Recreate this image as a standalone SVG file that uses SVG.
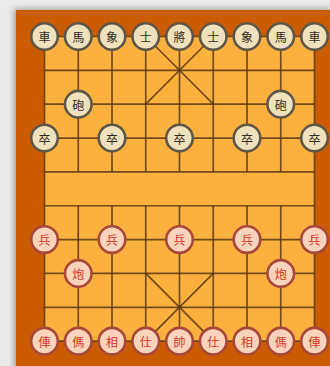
<svg xmlns="http://www.w3.org/2000/svg" width="330" height="366" viewBox="0 0 330 366">
<defs>
<filter id="sh" x="-10%" y="-10%" width="120%" height="120%"><feGaussianBlur stdDeviation="3"/></filter>
<style>
.g{stroke:#5a3a14;stroke-width:1.7;stroke-opacity:.85;fill:none}
.b circle{fill:#efe1bb;stroke:#5e5647;stroke-width:2.6}
.r circle{fill:#f9d3bc;stroke:#a8473a;stroke-width:2.6}
.b text,.r text{font-family:"Noto Sans CJK TC","Noto Sans CJK SC",sans-serif;font-size:12px;text-anchor:middle;dominant-baseline:central}
.b text{fill:#2f2a22}
.r text{fill:#d6372a}
</style>
</defs>
<rect width="330" height="366" fill="#ebebeb"/>
<rect x="14" y="9" width="318" height="362" fill="#000" opacity=".35" filter="url(#sh)"/>
<rect x="16" y="10" width="314" height="356" fill="#cc5c02"/>
<rect x="44.5" y="36.5" width="270" height="304.65" fill="#fcb03e"/>
<g id="board" class="g">
<path d="M44.5 36.5H314.5M44.5 70.35H314.5M44.5 104.2H314.5M44.5 138.05H314.5M44.5 171.9H314.5M44.5 205.75H314.5M44.5 239.6H314.5M44.5 273.45H314.5M44.5 307.3H314.5M44.5 341.15H314.5"/>
<path d="M44.5 36.5V341.15M314.5 36.5V341.15"/>
<path d="M78.25 36.5V171.9M112 36.5V171.9M145.75 36.5V171.9M179.5 36.5V171.9M213.25 36.5V171.9M247 36.5V171.9M280.75 36.5V171.9"/>
<path d="M78.25 205.75V341.15M112 205.75V341.15M145.75 205.75V341.15M179.5 205.75V341.15M213.25 205.75V341.15M247 205.75V341.15M280.75 205.75V341.15"/>
<path d="M145.75 36.5L213.25 104.2M213.25 36.5L145.75 104.2M145.75 273.45L213.25 341.15M213.25 273.45L145.75 341.15"/>
</g>
<g id="b-ju1" class="b"><circle cx="44.5" cy="36.5" r="13.3"/><text x="44.5" y="36.5">車</text></g>
<g id="b-ma1" class="b"><circle cx="78.25" cy="36.5" r="13.3"/><text x="78.25" y="36.5">馬</text></g>
<g id="b-xiang1" class="b"><circle cx="112" cy="36.5" r="13.3"/><text x="112" y="36.5">象</text></g>
<g id="b-shi1" class="b"><circle cx="145.75" cy="36.5" r="13.3"/><text x="145.75" y="36.5">士</text></g>
<g id="b-jiang" class="b"><circle cx="179.5" cy="36.5" r="13.3"/><text x="179.5" y="36.5">將</text></g>
<g id="b-shi2" class="b"><circle cx="213.25" cy="36.5" r="13.3"/><text x="213.25" y="36.5">士</text></g>
<g id="b-xiang2" class="b"><circle cx="247" cy="36.5" r="13.3"/><text x="247" y="36.5">象</text></g>
<g id="b-ma2" class="b"><circle cx="280.75" cy="36.5" r="13.3"/><text x="280.75" y="36.5">馬</text></g>
<g id="b-ju2" class="b"><circle cx="314.5" cy="36.5" r="13.3"/><text x="314.5" y="36.5">車</text></g>
<g id="b-pao1" class="b"><circle cx="78.25" cy="104.2" r="13.3"/><text x="78.25" y="104.2">砲</text></g>
<g id="b-pao2" class="b"><circle cx="280.75" cy="104.2" r="13.3"/><text x="280.75" y="104.2">砲</text></g>
<g id="b-zu1" class="b"><circle cx="44.5" cy="138.05" r="13.3"/><text x="44.5" y="138.05">卒</text></g>
<g id="b-zu2" class="b"><circle cx="112" cy="138.05" r="13.3"/><text x="112" y="138.05">卒</text></g>
<g id="b-zu3" class="b"><circle cx="179.5" cy="138.05" r="13.3"/><text x="179.5" y="138.05">卒</text></g>
<g id="b-zu4" class="b"><circle cx="247" cy="138.05" r="13.3"/><text x="247" y="138.05">卒</text></g>
<g id="b-zu5" class="b"><circle cx="314.5" cy="138.05" r="13.3"/><text x="314.5" y="138.05">卒</text></g>
<g id="r-bing1" class="r"><circle cx="44.5" cy="239.6" r="13.3"/><text x="44.5" y="239.6">兵</text></g>
<g id="r-bing2" class="r"><circle cx="112" cy="239.6" r="13.3"/><text x="112" y="239.6">兵</text></g>
<g id="r-bing3" class="r"><circle cx="179.5" cy="239.6" r="13.3"/><text x="179.5" y="239.6">兵</text></g>
<g id="r-bing4" class="r"><circle cx="247" cy="239.6" r="13.3"/><text x="247" y="239.6">兵</text></g>
<g id="r-bing5" class="r"><circle cx="314.5" cy="239.6" r="13.3"/><text x="314.5" y="239.6">兵</text></g>
<g id="r-pao1" class="r"><circle cx="78.25" cy="273.45" r="13.3"/><text x="78.25" y="273.45">炮</text></g>
<g id="r-pao2" class="r"><circle cx="280.75" cy="273.45" r="13.3"/><text x="280.75" y="273.45">炮</text></g>
<g id="r-ju1" class="r"><circle cx="44.5" cy="341.15" r="13.3"/><text x="44.5" y="341.15">俥</text></g>
<g id="r-ma1" class="r"><circle cx="78.25" cy="341.15" r="13.3"/><text x="78.25" y="341.15">傌</text></g>
<g id="r-xiang1" class="r"><circle cx="112" cy="341.15" r="13.3"/><text x="112" y="341.15">相</text></g>
<g id="r-shi1" class="r"><circle cx="145.75" cy="341.15" r="13.3"/><text x="145.75" y="341.15">仕</text></g>
<g id="r-shuai" class="r"><circle cx="179.5" cy="341.15" r="13.3"/><text x="179.5" y="341.15">帥</text></g>
<g id="r-shi2" class="r"><circle cx="213.25" cy="341.15" r="13.3"/><text x="213.25" y="341.15">仕</text></g>
<g id="r-xiang2" class="r"><circle cx="247" cy="341.15" r="13.3"/><text x="247" y="341.15">相</text></g>
<g id="r-ma2" class="r"><circle cx="280.75" cy="341.15" r="13.3"/><text x="280.75" y="341.15">傌</text></g>
<g id="r-ju2" class="r"><circle cx="314.5" cy="341.15" r="13.3"/><text x="314.5" y="341.15">俥</text></g>
</svg>
